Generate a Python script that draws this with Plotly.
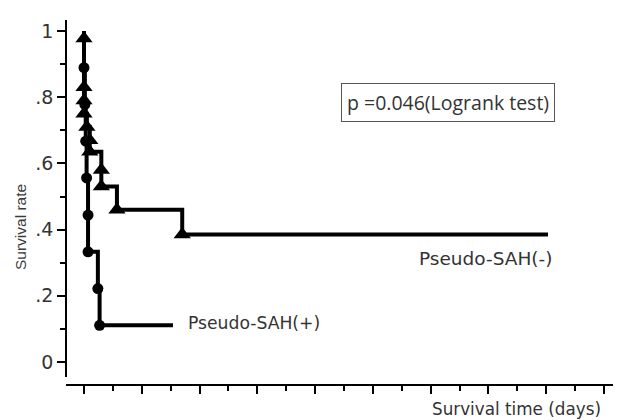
import plotly.graph_objects as go

# ---- data ----
# Pseudo-SAH(-) group: event times and survival level after each event
neg_times = [0, 0, 0, 0, 0.5, 1.0, 1.0, 3.0, 3.0, 5.7, 17.0]
neg_surv = [0.977, 0.83, 0.79, 0.75, 0.71, 0.67, 0.635, 0.58, 0.53, 0.46, 0.385]
neg_end = 80.3

# Pseudo-SAH(+) group
pos_times = [0, 0.15, 0.3, 0.45, 0.7, 0.7, 2.4, 2.7]
pos_surv = [0.889, 0.778, 0.667, 0.556, 0.444, 0.333, 0.222, 0.111]
pos_end = 15.4

y_tickvals = [0, 0.2, 0.4, 0.6, 0.8, 1]
y_ticktext = ["0", ".2", ".4", ".6", ".8", "1"]
x_tickvals = [0, 10, 20, 30, 40, 50, 60, 70, 80, 90]

p_text = "p =0.046(Logrank test)"
label_neg = "Pseudo-SAH(-)"
label_pos = "Pseudo-SAH(+)"
x_title = "Survival time (days)"
y_title = "Survival rate"

LW = 4
fig = go.Figure()


def add_group(times, surv, end, symbol, size):
    lx = [0] + times + [end]
    ly = [1.0] + surv + [surv[-1]]
    fig.add_trace(go.Scatter(x=lx, y=ly, mode="lines", line=dict(color="black", width=LW, shape="hv"),
                             showlegend=False, hoverinfo="skip"))
    fig.add_trace(go.Scatter(x=times, y=surv, mode="markers",
                             marker=dict(symbol=symbol, size=size, color="black"),
                             showlegend=False, hoverinfo="skip"))


add_group(neg_times, neg_surv, neg_end, "triangle-up", 15)
add_group(pos_times, pos_surv, pos_end, "circle", 11)

# the page body has an 8px margin, so the figure is 8px smaller and shifted
OFF = 8
W, H = 621 - OFF, 420 - OFF
ML, MR, MT, MB = 58, 0, 12, 35
PW, PH = W - ML - MR, H - MT - MB


def px(xp):
    return (xp - OFF - ML) / PW


def py(yp):
    return (H - MB - (yp - OFF)) / PH


fig.update_layout(
    width=W, height=H,
    margin=dict(l=ML, r=MR, t=MT, b=MB),
    paper_bgcolor="white", plot_bgcolor="white",
    font=dict(family="Liberation Sans, Arial", color="#333333"),
    xaxis=dict(range=[-3.115, 92.94], anchor="free", position=0,
               showline=True, linecolor="black", linewidth=1.5,
               tickvals=x_tickvals, ticks="outside", ticklen=8, tickwidth=1.5, tickcolor="black",
               showticklabels=False, showgrid=False, zeroline=False,
               minor=dict(dtick=5, tick0=5, ticks="outside", ticklen=5, tickwidth=1.5, tickcolor="black", showgrid=False)),
    yaxis=dict(range=[-0.045, 1.033], domain=[0.022, 1], anchor="free", position=0,
               showline=True, linecolor="black", linewidth=1.5,
               tickvals=y_tickvals, ticktext=y_ticktext, ticks="outside", ticklen=8, tickwidth=1.5,
               tickcolor="black", ticklabelstandoff=0,
               tickfont=dict(size=19, color="#333333", family="DejaVu Sans"),
               showgrid=False, zeroline=False,
               minor=dict(dtick=0.1, tick0=0.1, ticks="outside", ticklen=5, tickwidth=1.5, tickcolor="black", showgrid=False)),
)

fig.add_annotation(x=px(448), y=py(102.5), xref="paper", yref="paper", text=p_text, showarrow=False,
                   xanchor="center", yanchor="middle",
                   font=dict(family="Open Sans", size=19.5, color="#333333"),
                   bordercolor="#555555", borderwidth=1, borderpad=5, bgcolor="white")
fig.add_annotation(x=px(417), y=py(258), xref="paper", yref="paper", text=label_neg, showarrow=False,
                   xanchor="left", yanchor="middle", font=dict(family="DejaVu Sans", size=18.5, color="#333333"))
fig.add_annotation(x=px(186), y=py(323), xref="paper", yref="paper", text=label_pos, showarrow=False,
                   xanchor="left", yanchor="middle", font=dict(family="DejaVu Sans", size=17.2, color="#333333"))
fig.add_annotation(x=px(603), y=py(409), xref="paper", yref="paper", text=x_title, showarrow=False,
                   xanchor="right", yanchor="middle", font=dict(family="DejaVu Sans", size=16.8, color="#333333"))
fig.add_annotation(x=px(20), y=py(227), xref="paper", yref="paper", text=y_title, showarrow=False,
                   textangle=-90, xanchor="center", yanchor="middle",
                   font=dict(family="Liberation Sans, Arial", size=15.5, color="#3a3a3a"))

fig.write_html("out.html")
